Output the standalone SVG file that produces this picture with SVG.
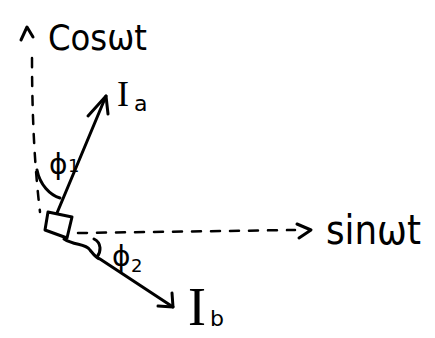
<svg xmlns="http://www.w3.org/2000/svg" width="435" height="338" viewBox="0 0 435 338">
<style>
.ln{fill:none;stroke:#000;stroke-width:3;stroke-linecap:round;stroke-linejoin:round}
.dash{fill:none;stroke:#000;stroke-width:2.5;stroke-linecap:round;stroke-dasharray:9 10}
.t{font-family:"DejaVu Sans",sans-serif;fill:#000}
.s{font-family:"Liberation Serif",serif;fill:#000}
</style>
<rect width="435" height="338" fill="#fff"/>
<g id="connectors">
<path class="dash" d="M32,58 C32,120 35,170 40,212"/>
<path class="ln" d="M21,40 L27,27 L33,37"/>
<path class="dash" d="M78,233 L295,230"/>
<path class="ln" d="M297,224 L311,230 L299,238"/>
<path class="ln" d="M57,213 L106,96"/>
<path class="ln" d="M88,116 L106,96 L108,114"/>
<path class="ln" d="M48,212 L72,217 L67,238 L45,230 Z"/>
<path class="ln" d="M64,239 C75,246 85,243 90,250 C94,255 96,258 100,259 L173,307"/>
<path class="ln" d="M158,306 L173,307 L172,293"/>
<path class="ln" d="M37,170 C40,185 50,195 60,198"/>
<path class="ln" d="M94,239 C102,243 101,252 97,257"/>
</g>
<g id="cos-axis"><text class="t" x="48" y="50" font-size="36" textLength="99" lengthAdjust="spacingAndGlyphs">Cosωt</text></g>
<g id="sin-axis"><text class="t" x="326" y="244" font-size="40" textLength="95" lengthAdjust="spacingAndGlyphs">sinωt</text></g>
<g id="Ia"><text class="s" x="117" y="106" font-size="36">I</text><text class="t" x="134" y="111" font-size="22">a</text></g>
<g id="Ib"><text class="s" x="188" y="325" font-size="54">I</text><text class="t" x="210" y="326" font-size="22">b</text></g>
<g id="phi1"><text class="t" x="49" y="174" font-size="28">ϕ</text><text class="t" x="68" y="172" font-size="18">1</text></g>
<g id="phi2"><text class="t" x="112" y="266" font-size="28">ϕ</text><text class="t" x="131" y="272" font-size="18">2</text></g>
</svg>
